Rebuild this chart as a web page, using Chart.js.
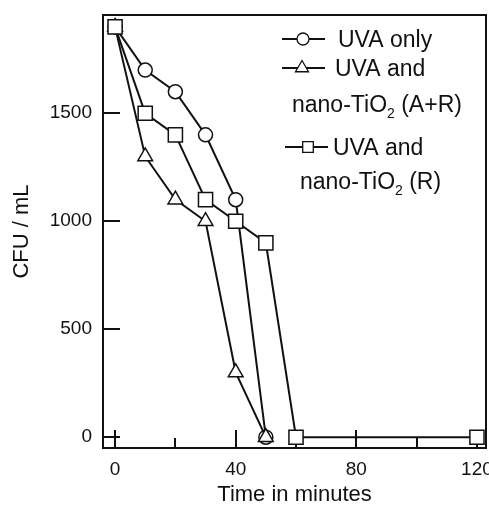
<!DOCTYPE html>
<html>
<head>
<meta charset="utf-8">
<script src="https://cdn.jsdelivr.net/npm/chart.js@4.4.1/dist/chart.umd.min.js"></script>
<style>
  html, body { margin: 0; padding: 0; background: #fff; }
</style>
</head>
<body>
<canvas id="grafico" width="489" height="505"></canvas>
<script>
// --- Dados do gráfico ---
const tempos = [0, 10, 20, 30, 40, 50, 60, 120];
const uvaSo = [1900, 1700, 1600, 1400, 1100, 0];
const uvaAR = [1900, 1300, 1100, 1000, 300, 0];
const uvaR = [1900, 1500, 1400, 1100, 1000, 900, 0, 0];

// Marcas dos eixos
const xTicks = [0, 40, 80, 120];
const xMinor = [20, 60, 100];
const yTicks = [0, 500, 1000, 1500];

const FONTE = '"Liberation Sans", Arial, sans-serif';
const COR = '#111';

function pontos(valores) {
    return valores.map((v, i) => ({ x: tempos[i], y: v }));
}

// Moldura e marcas internas (para dentro)
const molduraPlugin = {
    id: 'moldura',
    beforeDatasetsDraw(chart) {
        const { ctx, chartArea: a, scales } = chart;
        ctx.save();
        ctx.strokeStyle = COR;
        ctx.lineWidth = 2;
        ctx.strokeRect(a.left, a.top, a.right - a.left, a.bottom - a.top);
        ctx.beginPath();
        xTicks.forEach(v => {
            const px = Math.round(scales.x.getPixelForValue(v));
            ctx.moveTo(px, a.bottom);
            ctx.lineTo(px, a.bottom - 18);
        });
        xMinor.forEach(v => {
            const px = Math.round(scales.x.getPixelForValue(v));
            ctx.moveTo(px, a.bottom);
            ctx.lineTo(px, a.bottom - 10);
        });
        yTicks.forEach(v => {
            const py = Math.round(scales.y.getPixelForValue(v));
            ctx.moveTo(a.left, py);
            ctx.lineTo(a.left + 17, py);
        });
        ctx.stroke();
        ctx.restore();
    }
};

// Legenda desenhada à mão (por causa do subscrito em TiO2)
function textoSub(ctx, x, y, antes, sub, depois, tam) {
    ctx.font = `${tam}px ${FONTE}`;
    ctx.fillText(antes, x, y);
    x += ctx.measureText(antes).width;
    ctx.font = `${Math.round(tam * 0.62)}px ${FONTE}`;
    ctx.fillText(sub, x, y + 6);
    x += ctx.measureText(sub).width;
    ctx.font = `${tam}px ${FONTE}`;
    ctx.fillText(depois, x, y);
}

function marcador(ctx, x1, x2, y, estilo, raio, xm) {
    ctx.strokeStyle = COR;
    ctx.lineWidth = 2;
    ctx.beginPath();
    ctx.moveTo(x1, y);
    ctx.lineTo(x2, y);
    ctx.stroke();
    ctx.fillStyle = '#fff';
    ctx.lineWidth = 1.3;
    Chart.helpers.drawPoint(ctx, { pointStyle: estilo, radius: raio, rotation: 0, borderWidth: 1.3 }, xm, y);
}

const legendaPlugin = {
    id: 'legenda',
    afterDraw(chart) {
        const ctx = chart.ctx;
        ctx.save();
        marcador(ctx, 282, 325, 39, 'circle', 6, 303);
        marcador(ctx, 282, 325, 68, 'triangle', 7.5, 302);
        marcador(ctx, 285, 328, 147, 'rect', 7.5, 308);
        ctx.fillStyle = COR;
        ctx.textBaseline = 'alphabetic';
        ctx.font = `23px ${FONTE}`;
        ctx.fillText('UVA only', 338, 47);
        ctx.fillText('UVA and', 335, 76);
        textoSub(ctx, 292, 112, 'nano-TiO', '2', ' (A+R)', 23);
        ctx.font = `23px ${FONTE}`;
        ctx.fillText('UVA and', 333, 155);
        textoSub(ctx, 300, 189, 'nano-TiO', '2', ' (R)', 23);
        ctx.restore();
    }
};

function serie(label, valores, estilo, raio, ordem) {
    return {
        label: label,
        data: pontos(valores),
        borderColor: COR,
        borderWidth: 2,
        backgroundColor: '#fff',
        pointStyle: estilo,
        pointRadius: raio,
        pointBorderWidth: 1.5,
        pointBackgroundColor: '#fff',
        pointBorderColor: COR,
        tension: 0,
        order: ordem
    };
}

const ctx = document.getElementById('grafico').getContext('2d');
new Chart(ctx, {
    type: 'line',
    data: {
        datasets: [
            serie('UVA only', uvaSo, 'circle', 7, 2),
            serie('UVA and nano-TiO2 (A+R)', uvaAR, 'triangle', 8.5, 1),
            serie('UVA and nano-TiO2 (R)', uvaR, 'rect', 10, 0)
        ]
    },
    options: {
        responsive: false,
        devicePixelRatio: 1,
        animation: false,
        layout: { autoPadding: false, padding: { top: 15, right: 3, left: 0, bottom: 0 } },
        plugins: {
            legend: { display: false },
            tooltip: { enabled: false }
        },
        scales: {
            x: {
                type: 'linear',
                min: -4,
                max: 123,
                grid: { display: false, drawTicks: false },
                border: { display: false },
                afterBuildTicks: s => { s.ticks = xTicks.map(v => ({ value: v })); },
                afterFit: s => { s.height = 57; s.paddingLeft = 0; s.paddingRight = 0; },
                ticks: {
                    font: { size: 19, family: FONTE }, color: COR, padding: 10, maxRotation: 0,
                    callback: v => String(v)
                },
                title: {
                    display: true,
                    text: 'Time in minutes',
                    color: COR,
                    font: { size: 22, family: FONTE, lineHeight: 0.9 },
                    padding: { top: 0, bottom: 0 }
                }
            },
            y: {
                min: -50,
                max: 1955,
                grid: { display: false, drawTicks: false },
                border: { display: false },
                afterBuildTicks: s => { s.ticks = yTicks.map(v => ({ value: v })); },
                afterFit: s => { s.width = 103; s.paddingTop = 0; s.paddingBottom = 0; },
                ticks: {
                    font: { size: 19, family: FONTE }, color: COR, padding: 11,
                    callback: v => String(v)
                },
                title: {
                    display: true,
                    text: 'CFU / mL',
                    color: COR,
                    font: { size: 22, family: FONTE },
                    padding: { top: 9, bottom: 0 }
                }
            }
        }
    },
    plugins: [molduraPlugin, legendaPlugin]
});
</script>
</body>
</html>
